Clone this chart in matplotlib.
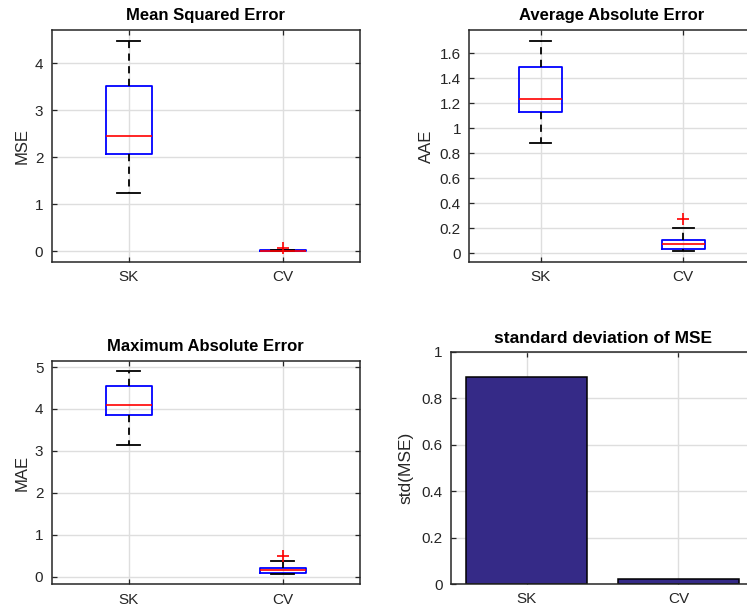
import matplotlib
matplotlib.use("Agg")
import matplotlib.pyplot as plt
from matplotlib.ticker import FormatStrFormatter, MultipleLocator

plt.rcParams["font.family"] = ["Liberation Sans", "DejaVu Sans"]

LABELS = ["SK", "CV"]

# five-number summaries: lower whisker, Q1, median, Q3, upper whisker
MSE_SK = [1.24, 2.07, 2.46, 3.52, 4.48]
MSE_CV = [0.002, 0.006, 0.012, 0.020, 0.035]
MSE_CV_OUT = [0.058]

AAE_SK = [0.885, 1.128, 1.234, 1.49, 1.70]
AAE_CV = [0.018, 0.034, 0.074, 0.109, 0.20]
AAE_CV_OUT = [0.272]

MAE_SK = [3.148, 3.864, 4.087, 4.555, 4.905]
MAE_CV = [0.063, 0.095, 0.16, 0.215, 0.374]
MAE_CV_OUT = [0.50]

STD_MSE = [0.891, 0.02]

W, H = 747, 606
GRID = "#dedede"
SPINE = "#262626"
BAR_COL = "#352a87"


def stats(five, fliers=()):
    lo, q1, med, q3, hi = five
    return dict(whislo=lo, q1=q1, med=med, q3=q3, whishi=hi, fliers=list(fliers))


def style_axes(ax):
    ax.set_axisbelow(True)
    ax.grid(True, color=GRID, linewidth=1.0)
    for s in ax.spines.values():
        s.set_color(SPINE)
        s.set_linewidth(1.1)
    ax.tick_params(direction="in", length=3.5, width=0.9, colors=SPINE,
                   labelsize=11, top=True, right=True, pad=6)
    ax.set_xlim(0.5, 2.5)
    ax.set_xticks([1, 2])
    ax.set_xticklabels(LABELS, fontsize=11)


def box_panel(ax, sk, cv, cv_out, title, ylabel, ylim, ystep, fmt):
    ax.bxp([stats(sk), stats(cv, cv_out)], positions=[1, 2], widths=0.3,
           capwidths=0.15, showfliers=True,
           boxprops=dict(color="#0000ff", linewidth=1.3),
           medianprops=dict(color="#ff0000", linewidth=1.2),
           whiskerprops=dict(color="black", linewidth=1.3, linestyle=(0, (4, 3))),
           capprops=dict(color="black", linewidth=1.3),
           flierprops=dict(marker="+", markeredgecolor="#ff0000",
                           markersize=8, markeredgewidth=1.2))
    style_axes(ax)
    ax.set_ylim(*ylim)
    ax.yaxis.set_major_locator(MultipleLocator(ystep))
    ax.yaxis.set_major_formatter(FormatStrFormatter(fmt))
    ax.set_title(title, fontsize=12, fontweight="bold", pad=7)
    ax.set_ylabel(ylabel, fontsize=12, color=SPINE)


fig = plt.figure(figsize=(W / 100, H / 100), dpi=100)

ax1 = fig.add_axes([51.7 / W, 1 - 262 / H, 308.3 / W, 232 / H])
box_panel(ax1, MSE_SK, MSE_CV, MSE_CV_OUT, "Mean Squared Error", "MSE",
          (-0.23, 4.71), 1, "%g")

ax2 = fig.add_axes([469.3 / W, 1 - 261.7 / H, 285.2 / W, 231.7 / H])
box_panel(ax2, AAE_SK, AAE_CV, AAE_CV_OUT, "Average Absolute Error", "AAE",
          (-0.067, 1.786), 0.2, "%g")

ax3 = fig.add_axes([51.7 / W, 1 - 584.3 / H, 308.3 / W, 223.3 / H])
box_panel(ax3, MAE_SK, MAE_CV, MAE_CV_OUT, "Maximum Absolute Error", "MAE",
          (-0.18, 5.144), 1, "%g")

# bar chart of the spread of MSE
ax4 = fig.add_axes([451 / W, 1 - 584 / H, 303.3 / W, 232.3 / H])
ax4.bar([1, 2], STD_MSE, width=0.8, color=BAR_COL, edgecolor="black", linewidth=1.1)
style_axes(ax4)
ax4.set_ylim(0, 1)
ax4.yaxis.set_major_locator(MultipleLocator(0.2))
ax4.yaxis.set_major_formatter(FormatStrFormatter("%g"))
ax4.set_title("standard deviation of MSE", fontsize=12.5, fontweight="bold", pad=6)
ax4.set_ylabel("std(MSE)", fontsize=12.5, color=SPINE, labelpad=6)

fig.savefig("out.png", dpi=100, facecolor="white")
